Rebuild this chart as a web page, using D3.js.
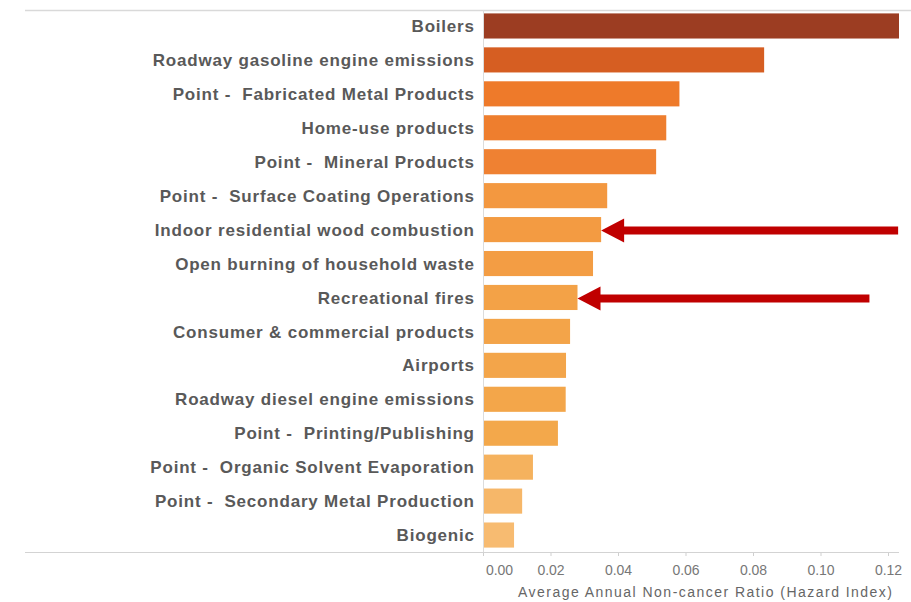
<!DOCTYPE html>
<html>
<head>
<meta charset="utf-8">
<script src="https://cdn.jsdelivr.net/npm/d3@7"></script>
<style>
  body { margin: 0; background: #fff; }
  svg { display: block; font-family: Arial, "Liberation Sans", sans-serif; }
</style>
</head>
<body>
<svg id="chart" width="911" height="602"></svg>
<script>
// source categories, top to bottom
var categories = [
    "Boilers",
    "Roadway gasoline engine emissions",
    "Point -  Fabricated Metal Products",
    "Home-use products",
    "Point -  Mineral Products",
    "Point -  Surface Coating Operations",
    "Indoor residential wood combustion",
    "Open burning of household waste",
    "Recreational fires",
    "Consumer & commercial products",
    "Airports",
    "Roadway diesel engine emissions",
    "Point -  Printing/Publishing",
    "Point -  Organic Solvent Evaporation",
    "Point -  Secondary Metal Production",
    "Biogenic"
];
// hazard index per category
var values = [0.130, 0.0833, 0.0582, 0.0543, 0.0513, 0.0368, 0.0350, 0.0326, 0.0280,
              0.0258, 0.0246, 0.0245, 0.0222, 0.0148, 0.0116, 0.0092];
var tickValues = [0, 0.02, 0.04, 0.06, 0.08, 0.10, 0.12];
// the two highlighted categories
var arrowed = ["Indoor residential wood combustion", "Recreational fires"];
var arrowTail = [0.123, 0.1145];

var data = categories.map(function(c, i) { return {name: c, value: values[i]}; });

var svg = d3.select("#chart");
var plotLeft = 483, plotRight = 899, plotTop = 9, plotBottom = 552;

var x = d3.scaleLinear().domain([0, 0.12]).range([plotLeft, plotLeft + 6 * 67.5]);
var y = d3.scaleBand().domain(categories).range([plotTop, plotBottom]).paddingInner(0.26).paddingOuter(0.13);

var color = d3.scaleLinear()
    .domain([0.009, 0.02, 0.035, 0.05, 0.058, 0.083, 0.13])
    .range(["#f7bb72", "#f3aa4d", "#f39b42", "#ef8233", "#ee7a2a", "#d65e22", "#9c3d22"]);

svg.append("defs").append("clipPath").attr("id", "plot")
    .append("rect").attr("x", plotLeft).attr("y", 0).attr("width", plotRight - plotLeft).attr("height", plotBottom);

// top separator line (title cut off above)
svg.append("line")
    .attr("x1", 25).attr("x2", 911).attr("y1", 10.5).attr("y2", 10.5)
    .attr("stroke", "#d9d9d9").attr("stroke-width", 1.5);

// bars
svg.append("g").attr("clip-path", "url(#plot)")
    .selectAll("rect")
    .data(data)
    .enter().append("rect")
    .attr("x", x(0) + 1)
    .attr("y", function(d) { return y(d.name); })
    .attr("width", function(d) { return x(d.value) - x(0) - 1; })
    .attr("height", y.bandwidth())
    .attr("fill", function(d) { return color(d.value); });

// category labels
svg.append("g")
    .selectAll("text")
    .data(data)
    .enter().append("text")
    .attr("x", 474.8)
    .attr("y", function(d) { return y(d.name) + y.bandwidth() / 2; })
    .attr("dy", "0.36em")
    .attr("text-anchor", "end")
    .style("white-space", "pre")
    .style("letter-spacing", "0.8px")
    .attr("font-size", 17)
    .attr("font-weight", "bold")
    .attr("fill", "#595959")
    .text(function(d) { return d.name; });

// vertical axis line
svg.append("line")
    .attr("x1", plotLeft + 0.5).attr("x2", plotLeft + 0.5).attr("y1", 10).attr("y2", plotBottom)
    .attr("stroke", "#dcdcdc");

// x axis
var axis = svg.append("g")
    .attr("transform", "translate(0," + plotBottom + ")")
    .call(d3.axisBottom(x).tickValues(tickValues).tickFormat(d3.format(".2f")).tickSize(4).tickSizeOuter(0));
axis.select(".domain").remove();
axis.selectAll(".tick line").attr("stroke", "#cfcfcf");
axis.selectAll(".tick text")
    .attr("font-size", 14).attr("fill", "#777").attr("font-family", "Arial, 'Liberation Sans', sans-serif")
    .attr("y", 13)
    .attr("dx", function(d) { return d === 0 ? 16 : 0; });
svg.append("line")
    .attr("x1", 25).attr("x2", plotRight).attr("y1", plotBottom + 0.5).attr("y2", plotBottom + 0.5)
    .attr("stroke", "#d3d3d3").attr("stroke-width", 1.2);

svg.append("text")
    .attr("x", 705).attr("y", 597)
    .attr("text-anchor", "middle")
    .attr("font-size", 14)
    .attr("textLength", 374)
    .attr("fill", "#666")
    .text("Average Annual Non-cancer Ratio (Hazard Index)");

// red arrows pointing at highlighted bars
var arrows = svg.append("g");
arrowed.forEach(function(name, i) {
    var d = data.find(function(e) { return e.name === name; });
    var tip = x(d.value);
    var cy = y(name) + y.bandwidth() / 2 + 1;
    var headLen = 23, headHalf = 12, shaft = 4;
    arrows.append("path")
        .attr("d", "M" + tip + "," + cy +
            " L" + (tip + headLen) + "," + (cy - headHalf) +
            " L" + (tip + headLen) + "," + (cy - shaft) +
            " L" + x(arrowTail[i]) + "," + (cy - shaft) +
            " L" + x(arrowTail[i]) + "," + (cy + shaft) +
            " L" + (tip + headLen) + "," + (cy + shaft) +
            " L" + (tip + headLen) + "," + (cy + headHalf) + " Z")
        .attr("fill", "#c00000");
});
</script>
</body>
</html>
